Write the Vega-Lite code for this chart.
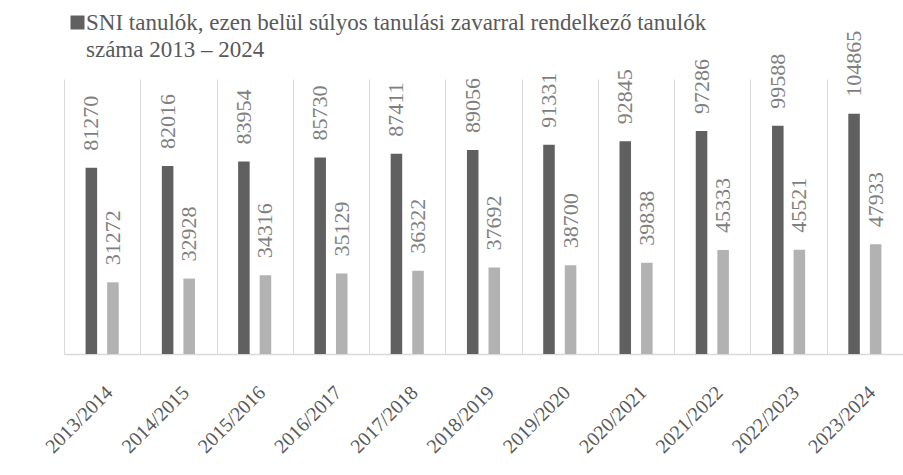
{
  "$schema": "https://vega.github.io/schema/vega-lite/v6.json",
  "width": 839,
  "height": 275,
  "autosize": {"type": "none"},
  "padding": {"left": 64, "top": 79, "right": 0, "bottom": 121},
  "background": "white",
  "config": {
    "view": {"stroke": null},
    "font": "Liberation Serif",
    "style": {"guide-label": {"lineHeight": 27}}
  },
  "data": {
    "values": [
      {"year": "2013/2014", "series": "SNI tanulók, ezen belül súlyos tanulási zavarral rendelkező tanulók száma 2013 – 2024", "value": 81270},
      {"year": "2013/2014", "series": "súlyos tanulási zavarral rendelkező tanulók", "value": 31272},
      {"year": "2014/2015", "series": "SNI tanulók, ezen belül súlyos tanulási zavarral rendelkező tanulók száma 2013 – 2024", "value": 82016},
      {"year": "2014/2015", "series": "súlyos tanulási zavarral rendelkező tanulók", "value": 32928},
      {"year": "2015/2016", "series": "SNI tanulók, ezen belül súlyos tanulási zavarral rendelkező tanulók száma 2013 – 2024", "value": 83954},
      {"year": "2015/2016", "series": "súlyos tanulási zavarral rendelkező tanulók", "value": 34316},
      {"year": "2016/2017", "series": "SNI tanulók, ezen belül súlyos tanulási zavarral rendelkező tanulók száma 2013 – 2024", "value": 85730},
      {"year": "2016/2017", "series": "súlyos tanulási zavarral rendelkező tanulók", "value": 35129},
      {"year": "2017/2018", "series": "SNI tanulók, ezen belül súlyos tanulási zavarral rendelkező tanulók száma 2013 – 2024", "value": 87411},
      {"year": "2017/2018", "series": "súlyos tanulási zavarral rendelkező tanulók", "value": 36322},
      {"year": "2018/2019", "series": "SNI tanulók, ezen belül súlyos tanulási zavarral rendelkező tanulók száma 2013 – 2024", "value": 89056},
      {"year": "2018/2019", "series": "súlyos tanulási zavarral rendelkező tanulók", "value": 37692},
      {"year": "2019/2020", "series": "SNI tanulók, ezen belül súlyos tanulási zavarral rendelkező tanulók száma 2013 – 2024", "value": 91331},
      {"year": "2019/2020", "series": "súlyos tanulási zavarral rendelkező tanulók", "value": 38700},
      {"year": "2020/2021", "series": "SNI tanulók, ezen belül súlyos tanulási zavarral rendelkező tanulók száma 2013 – 2024", "value": 92845},
      {"year": "2020/2021", "series": "súlyos tanulási zavarral rendelkező tanulók", "value": 39838},
      {"year": "2021/2022", "series": "SNI tanulók, ezen belül súlyos tanulási zavarral rendelkező tanulók száma 2013 – 2024", "value": 97286},
      {"year": "2021/2022", "series": "súlyos tanulási zavarral rendelkező tanulók", "value": 45333},
      {"year": "2022/2023", "series": "SNI tanulók, ezen belül súlyos tanulási zavarral rendelkező tanulók száma 2013 – 2024", "value": 99588},
      {"year": "2022/2023", "series": "súlyos tanulási zavarral rendelkező tanulók", "value": 45521},
      {"year": "2023/2024", "series": "SNI tanulók, ezen belül súlyos tanulási zavarral rendelkező tanulók száma 2013 – 2024", "value": 104865},
      {"year": "2023/2024", "series": "súlyos tanulási zavarral rendelkező tanulók", "value": 47933}
    ]
  },
  "encoding": {
    "x": {
      "field": "year",
      "type": "nominal",
      "sort": null,
      "title": null,
      "scale": {"paddingInner": 0, "paddingOuter": 0},
      "axis": {
        "grid": true,
        "gridColor": "#d9d9d9",
        "gridWidth": 1,
        "tickBand": "extent",
        "ticks": false,
        "domain": true,
        "domainColor": "#d9d9d9",
        "domainWidth": 1.5,
        "labelAngle": -45,
        "labelAlign": "right",
        "labelBaseline": "top",
        "labelPadding": 28,
        "labelFontSize": 20,
        "labelColor": "#595959",
        "labelFont": "Liberation Serif"
      }
    },
    "xOffset": {
      "field": "series",
      "type": "nominal",
      "sort": null,
      "scale": {"paddingInner": 0.465, "paddingOuter": 1.15}
    },
    "y": {
      "field": "value",
      "type": "quantitative",
      "scale": {"domain": [0, 120000]},
      "axis": null
    }
  },
  "layer": [
    {
      "mark": {"type": "bar"},
      "encoding": {
        "color": {
          "field": "series",
          "type": "nominal",
          "scale": {
            "domain": ["SNI tanulók, ezen belül súlyos tanulási zavarral rendelkező tanulók száma 2013 – 2024", "súlyos tanulási zavarral rendelkező tanulók"],
            "range": ["#606060", "#b2b2b2"]
          },
          "legend": {
            "values": ["SNI tanulók, ezen belül súlyos tanulási zavarral rendelkező tanulók száma 2013 – 2024"],
            "title": null,
            "orient": "none",
            "legendX": 2,
            "legendY": -68,
            "symbolType": "square",
            "symbolSize": 196,
            "symbolStrokeWidth": 0,
            "labelFontSize": 23,
            "labelColor": "#595959",
            "labelFont": "Liberation Serif",
            "labelLimit": 0,
            "labelOffset": -3,
            "labelExpr": "[slice(datum.label, 0, indexof(datum.label, ' száma')), slice(datum.label, indexof(datum.label, ' száma') + 1)]"
          }
        }
      }
    },
    {
      "mark": {
        "type": "text",
        "angle": 270,
        "align": "left",
        "baseline": "middle",
        "dx": 17,
        "fontSize": 22,
        "color": "#7f7f7f",
        "font": "Liberation Serif"
      },
      "encoding": {
        "text": {"field": "value", "type": "quantitative", "format": "d"}
      }
    }
  ]
}
